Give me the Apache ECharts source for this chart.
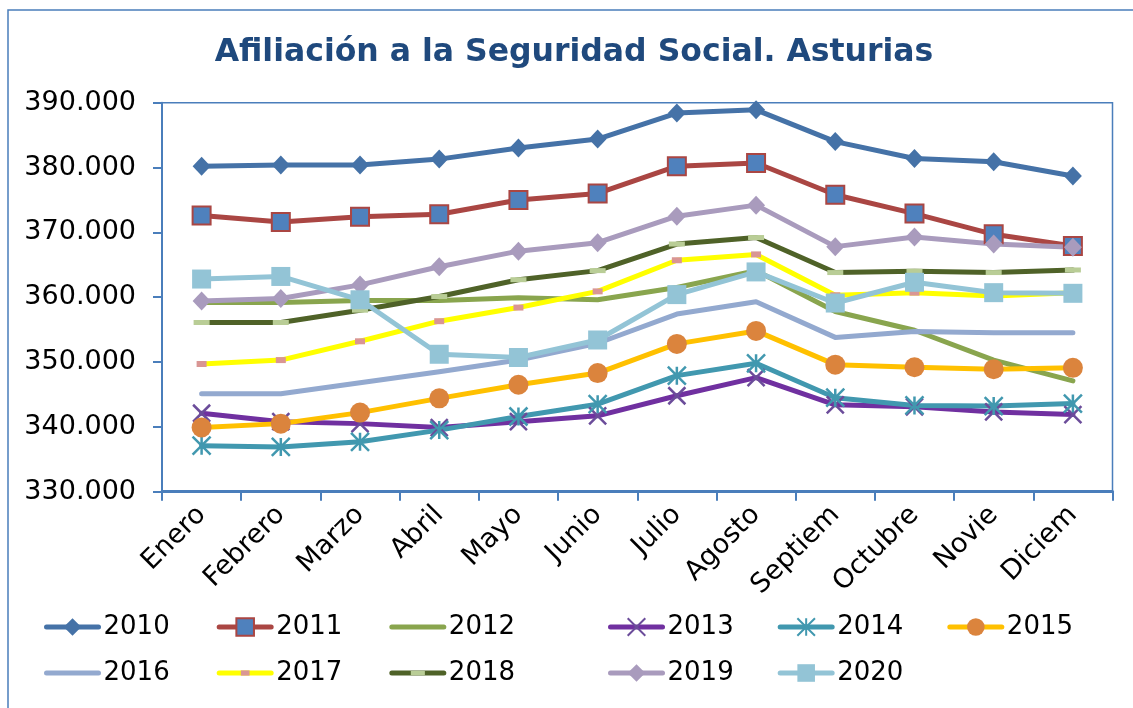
<!DOCTYPE html>
<html>
<head>
<meta charset="utf-8">
<title>Afiliación a la Seguridad Social. Asturias</title>
<script src="https://cdn.jsdelivr.net/npm/echarts@6/dist/echarts.min.js"></script>
<style>
  html, body { margin: 0; padding: 0; background: #ffffff; }
  #chart { width: 1133px; height: 708px; }
</style>
</head>
<body>
<div id="chart"></div>
<script>
var meses = ["Enero", "Febrero", "Marzo", "Abril", "Mayo", "Junio", "Julio", "Agosto", "Septiem", "Octubre", "Novie", "Diciem"];

var y2010 = [380200, 380400, 380400, 381300, 383000, 384400, 388400, 388900, 384000, 381400, 380900, 378700];
var y2011 = [372600, 371600, 372400, 372800, 375000, 376000, 380200, 380700, 375800, 372900, 369700, 367900];
var y2012 = [359200, 359200, 359500, 359500, 359900, 359600, 361500, 364100, 357800, 354900, 350300, 347100];
var y2013 = [342100, 340800, 340500, 339900, 340800, 341700, 344800, 347600, 343400, 343100, 342300, 341900];
var y2014 = [337100, 336900, 337700, 339500, 341600, 343500, 347900, 349800, 344500, 343300, 343200, 343600];
var y2015 = [339900, 340500, 342200, 344400, 346500, 348300, 352800, 354800, 349600, 349200, 348900, 349100];
var y2016 = [345100, 345100, 346800, 348500, 350300, 352900, 357400, 359300, 353800, 354700, 354500, 354500];
var y2017 = [349700, 350300, 353200, 356300, 358400, 360900, 365700, 366600, 360300, 360700, 360200, 360700];
var y2018 = [356100, 356100, 358000, 360100, 362700, 364100, 368200, 369200, 363800, 364000, 363800, 364200];
var y2019 = [359400, 359800, 361900, 364700, 367100, 368400, 372500, 374200, 367800, 369300, 368200, 367700];
var y2020 = [362800, 363200, 359600, 351200, 350700, 353400, 360400, 363900, 359100, 362300, 360700, 360600];

var yMin = 330000, yMax = 390000, yStep = 10000;

// marcadores tipo Excel (caja 20x20 para que la leyenda no los deforme)
var mkX = "path://M0,0 L20,20 M20,0 L0,20";
var mkStar = "path://M0,0 L20,20 M20,0 L0,20 M10,0 L10,20";
var mkDash17 = "path://M0,0 L0,0 M20,20 L20,20 M5,7 L15,7 L15,13 L5,13 Z";
var mkDash18 = "path://M0,0 L0,0 M20,20 L20,20 M2,7.5 L18,7.5 L18,12.5 L2,12.5 Z";
var mkNone = "path://M0,0 L0,0 M20,20 L20,20 M0,9.5 L20,9.5 L20,10.5 L0,10.5 Z";

var FONT = "DejaVu Sans";
var AXIS = "#4A7EBB";

function serie(name, data, lineColor, symbol, size, fill, border, bw, show) {
  return {
    name: name,
    type: "line",
    data: data,
    symbol: symbol,
    symbolSize: size,
    showSymbol: show,
    lineStyle: { color: lineColor, width: 5, cap: "round", join: "round" },
    itemStyle: { color: fill, borderColor: border, borderWidth: bw },
    emphasis: { disabled: true }
  };
}

var chart = echarts.init(document.getElementById("chart"));

var legendBase = {
  orient: "horizontal",
  itemWidth: 52,
  itemHeight: 22,
  textStyle: { fontFamily: FONT, fontSize: 26, color: "#000000" },
  lineStyle: { width: 5 },
  selectedMode: false
};

chart.setOption({
  animation: false,
  title: {
    text: "Afiliación a la Seguridad Social. Asturias",
    left: 574,
    top: 37,
    textAlign: "center",
    padding: 0,
    textStyle: { fontFamily: FONT, fontWeight: "bold", fontSize: 31.5, color: "#1F497D" }
  },
  graphic: [{
    type: "rect",
    shape: { x: 8, y: 10, width: 1300, height: 900 },
    style: { fill: null, stroke: AXIS, lineWidth: 1.5 },
    silent: true
  }],
  legend: [
    Object.assign({}, legendBase, { data: ["2010", "2011", "2012"], left: 39, top: 609, itemGap: 47 }),
    Object.assign({}, legendBase, { data: ["2013", "2014", "2015"], left: 603, top: 609, itemGap: 44 }),
    Object.assign({}, legendBase, { data: ["2016", "2017", "2018"], left: 39, top: 655, itemGap: 47 }),
    Object.assign({}, legendBase, { data: ["2019", "2020"], left: 603, top: 655, itemGap: 44 })
  ],
  grid: {
    left: 162, right: 20.5, top: 102.7, bottom: 216.3,
    show: true, borderColor: AXIS, borderWidth: 1.5,
    containLabel: false, outerBoundsMode: "none"
  },
  xAxis: {
    type: "category",
    data: meses,
    boundaryGap: true,
    axisLine: { show: true, lineStyle: { color: AXIS, width: 3 } },
    axisTick: { show: true, length: 9, interval: 0, lineStyle: { color: AXIS, width: 2 } },
    axisLabel: { interval: 0, rotate: 45, margin: 19, fontFamily: FONT, fontSize: 27, color: "#000000" },
    splitLine: { show: false }
  },
  yAxis: {
    type: "value",
    min: yMin, max: yMax, interval: yStep,
    axisLine: { show: true, lineStyle: { color: AXIS, width: 2 } },
    axisTick: { show: true, length: 9, lineStyle: { color: AXIS, width: 2 } },
    axisLabel: {
      margin: 26, fontFamily: FONT, fontSize: 27, color: "#000000",
      formatter: function (v) { return String(v).replace(/\B(?=(\d{3})+(?!\d))/g, "."); }
    },
    splitLine: { show: false }
  },
  series: [
    serie("2010", y2010, "#4572A7", "diamond", [18, 19], "#4572A7", "#4572A7", 0, true),
    serie("2011", y2011, "#AA4643", "rect", 18, "#4F81BD", "#AA4643", 2, true),
    serie("2012", y2012, "#89A54E", mkNone, 20, "#89A54E", "#89A54E", 0, false),
    serie("2013", y2013, "#7030A0", mkX, 17, "#6B4C9A", "#6B4C9A", 2.5, true),
    serie("2014", y2014, "#4198AF", mkStar, 18, "#4198AF", "#4198AF", 2.5, true),
    serie("2015", y2015, "#FFC000", "circle", 20, "#DB843D", "#DB843D", 0, true),
    serie("2016", y2016, "#93A9CF", mkNone, 20, "#93A9CF", "#93A9CF", 0, false),
    serie("2017", y2017, "#FFFF00", mkDash17, 20, "#D99694", "#D99694", 0, true),
    serie("2018", y2018, "#4F6228", mkDash18, 20, "#B9CD96", "#B9CD96", 0, true),
    serie("2019", y2019, "#A99BBD", "diamond", [18, 19], "#A99BBD", "#A99BBD", 0, true),
    serie("2020", y2020, "#93C4D6", "rect", 19, "#93C4D6", "#93C4D6", 0, true)
  ]
});

window.addEventListener("resize", function () {
  chart.resize();
});
</script>
</body>
</html>
